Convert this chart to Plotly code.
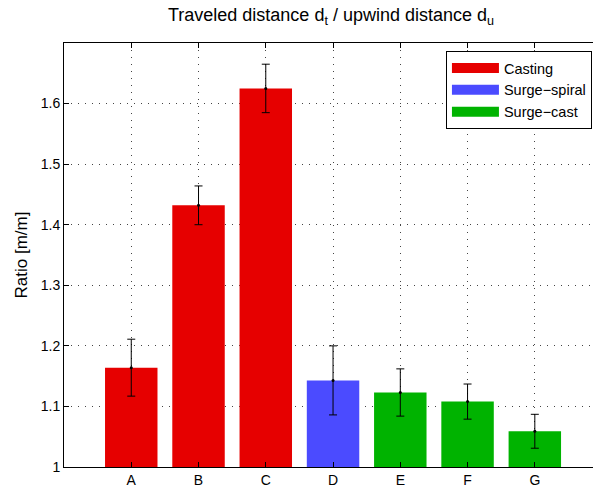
import plotly.graph_objects as go

categories = ["A", "B", "C", "D", "E", "F", "G"]
positions = [1, 2, 3, 4, 5, 6, 7]
means = [1.164, 1.432, 1.625, 1.143, 1.123, 1.108, 1.059]
errors = [0.047, 0.032, 0.040, 0.057, 0.039, 0.029, 0.028]
groups = ["Casting", "Casting", "Casting", "Surge\u2212spiral", "Surge\u2212cast", "Surge\u2212cast", "Surge\u2212cast"]
group_names = ["Casting", "Surge\u2212spiral", "Surge\u2212cast"]
group_colors = {"Casting": "#E60000", "Surge\u2212spiral": "#4B4BFF", "Surge\u2212cast": "#00B300"}
yticks = [1.0, 1.1, 1.2, 1.3, 1.4, 1.5, 1.6]
ytick_labels = ["1", "1.1", "1.2", "1.3", "1.4", "1.5", "1.6"]

FONT = "Liberation Sans, Arial, sans-serif"

fig = go.Figure()
for g in group_names:
    idx = [i for i, gg in enumerate(groups) if gg == g]
    fig.add_trace(go.Bar(
        x=[positions[i] for i in idx],
        y=[means[i] for i in idx],
        width=0.78,
        marker=dict(color=group_colors[g], line=dict(width=0)),
        name=g,
        showlegend=False,
    ))

fig.add_trace(go.Scatter(
    x=positions, y=means, mode="markers",
    marker=dict(color="black", size=3),
    error_y=dict(type="data", array=errors, color="black", thickness=1, width=4),
    showlegend=False,
))

# legend entries
for g in group_names:
    fig.add_trace(go.Scatter(
        x=[None], y=[None], mode="lines",
        line=dict(color=group_colors[g], width=15),
        name=g, showlegend=True,
    ))

fig.update_layout(
    width=593, height=489,
    margin=dict(l=64, r=0, t=43, b=22),
    paper_bgcolor="white", plot_bgcolor="white",
    font=dict(family=FONT, color="black", size=14),
    title=dict(text="Traveled distance d<sub>t</sub> / upwind distance d<sub>u</sub>",
               x=331 / 593, xanchor="center", y=0.982, yanchor="top",
               font=dict(size=18, family=FONT)),
    legend=dict(x=0.998, xanchor="right", y=0.981, yanchor="top",
                bordercolor="black", borderwidth=1, bgcolor="white",
                font=dict(size=14.5, family=FONT), itemwidth=47,
                tracegroupgap=0),
)

fig.update_xaxes(
    range=[0, 7.865], tickvals=positions, ticktext=categories,
    showline=True, linecolor="black", linewidth=1, mirror="ticks",
    ticks="inside", ticklen=5, tickcolor="black",
    showgrid=True, gridcolor="#444444", griddash="1px,6px", gridwidth=1,
    zeroline=False, tickfont=dict(size=14), automargin=False,
)
fig.update_yaxes(
    range=[1.0, 1.7], tickvals=yticks, ticktext=ytick_labels,
    showline=True, linecolor="black", linewidth=1, mirror=False,
    ticks="inside", ticklen=5, tickcolor="black",
    showgrid=True, gridcolor="#444444", griddash="1px,6px", gridwidth=1,
    zeroline=False, tickfont=dict(size=14), automargin=False,
    title=dict(text="Ratio [m/m]", font=dict(size=17), standoff=8),
)

fig.write_html("out.html", config={"displayModeBar": False},
               post_script="document.body.style.margin='0';")
